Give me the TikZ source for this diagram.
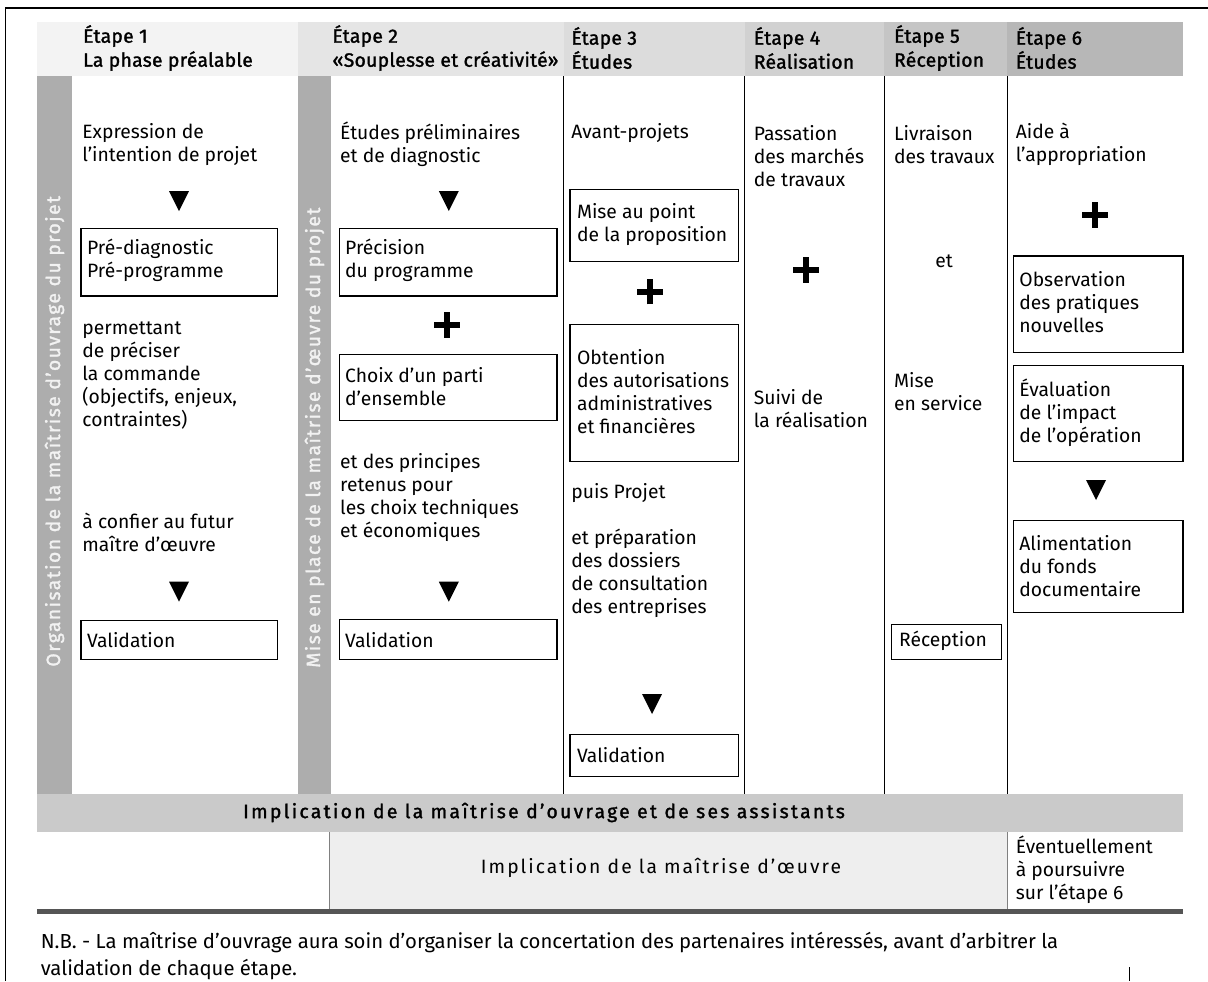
\documentclass[tikz,border=0pt]{standalone}
\usepackage{fontspec}
\setmainfont{Fira Sans}
\newfontfamily\headfont[FakeBold=1.5,LetterSpace=1.5]{Fira Sans}
\newfontfamily\barfont[FakeBold=1.5,LetterSpace=7.5]{Fira Sans}
\newfontfamily\bandfont[FakeBold=1.5,LetterSpace=12]{Fira Sans}
\newfontfamily\spacedfont[LetterSpace=10.5]{Fira Sans}
\usepackage{tikz}
\usetikzlibrary{shapes.misc}
\definecolor{hdrA}{HTML}{F3F3F3}
\definecolor{hdrB}{HTML}{E5E5E5}
\definecolor{hdrC}{HTML}{DCDCDC}
\definecolor{hdrD}{HTML}{D1D1D1}
\definecolor{hdrE}{HTML}{C5C5C5}
\definecolor{hdrF}{HTML}{B7B7B7}
\definecolor{bargray}{HTML}{ADADAD}
\definecolor{bandgray}{HTML}{CACACA}
\definecolor{lowgray}{HTML}{EEEEEE}
\definecolor{rulegray}{HTML}{555555}
\definecolor{bartext}{HTML}{F2F2F2}

\begin{document}
\begin{tikzpicture}[
  x=0.5pt, y=-0.5pt,
  every node/.style={font=\fontsize{9.65}{11.5}\selectfont, inner sep=0pt, align=left},
  txt/.style={anchor=west},
  hdr/.style={anchor=west, font=\fontsize{9.65}{12}\selectfont\headfont},
  vtxt/.style={anchor=west, rotate=90, text=bartext, font=\fontsize{9.65}{12}\selectfont\barfont},
  cadre/.style={draw=black, line width=0.6pt},
  colline/.style={draw=black, line width=0.5pt},
  plus/.style={cross out, draw=black, line width=3pt, minimum size=6pt, rotate=45},
  tri/.style={fill=black}
]
\useasboundingbox (0,0) rectangle (1208,981);

% cadre general
\draw[line width=0.8pt] (5.4,981) -- (5.4,8);
\draw[line width=1.3pt] (5,8) -- (1208,8);

% en-tetes
\fill[hdrA] (36.6,21.7) rectangle (297.8,76);
\fill[hdrB] (297.8,21.7) rectangle (563.6,76);
\fill[hdrC] (563.6,21.7) rectangle (744.6,76);
\fill[hdrD] (744.6,21.7) rectangle (884,76);
\fill[hdrE] (884,21.7) rectangle (1007.3,76);
\fill[hdrF] (1007.3,21.7) rectangle (1183,76);
\node[hdr] (h1) at (82.8,48) {Étape 1\\La phase préalable};
\node[hdr] (h2) at (332,48) {Étape 2\\«Souplesse et créativité»};
\node[hdr] (h3) at (571,48) {Étape 3\\Études};
\node[hdr] (h4) at (753.5,48) {Étape 4\\Réalisation};
\node[hdr] (h5) at (893.7,48) {Étape 5\\Réception};
\node[hdr] (h6) at (1015.4,48) {Étape 6\\Études};

% bandes verticales
\fill[bargray] (36.6,76) rectangle (72.4,794);
\fill[bargray] (297.8,76) rectangle (331.3,794);
\node[vtxt] (orga) at (54.5,667) {Organisation de la maîtrise d’ouvrage du projet};
\node[vtxt] (miseplace) at (314.5,668) {Mise en place de la maîtrise d’œuvre du projet};

% separations des colonnes
\foreach \cx in {563.6,744.6,884,1007.3}
  \draw[colline] (\cx,76) -- (\cx,794);

% etape 1
\node[txt] (e1a) at (82,144.2) {Expression de\\l’intention de projet};
\fill[tri] (169,191) -- ++(20,0) -- ++(-10,20) -- cycle;
\draw[cadre] (80.9,228.7) rectangle (277.7,296);
\node[txt] (e1b) at (86.7,260.8) {Pré-diagnostic\\Pré-programme};
\node[txt] (e1c) at (82,375.5) {permettant\\de préciser\\la commande\\(objectifs, enjeux,\\contraintes)};
\node[txt] (e1d) at (82,532) {à confier au futur\\maître d’œuvre};
\fill[tri] (169,581.7) -- ++(20,0) -- ++(-10,20) -- cycle;
\draw[cadre] (80.9,620.7) rectangle (277.7,659.3);
\node[txt] (e1e) at (86.7,640) {Validation};

% etape 2
\node[txt] (e2a) at (339.8,144.2) {Études préliminaires\\et de diagnostic};
\fill[tri] (438.8,191) -- ++(20,0) -- ++(-10,20) -- cycle;
\draw[cadre] (339.8,228.7) rectangle (557,296);
\node[txt] (e2b) at (344.8,260.8) {Précision\\du programme};
\node[plus] (p2) at (446.8,325) {};
\draw[cadre] (339.8,354.3) rectangle (557,420.7);
\node[txt] (e2c) at (344.8,386.3) {Choix d’un parti\\d’ensemble};
\node[txt] (e2d) at (339.8,498) {et des principes\\retenus pour\\les choix techniques\\et économiques};
\fill[tri] (438.8,581.7) -- ++(20,0) -- ++(-10,20) -- cycle;
\draw[cadre] (339.8,619.3) rectangle (557,659.3);
\node[txt] (e2e) at (344.8,640) {Validation};

% etape 3
\node[txt] (e3a) at (571,132.7) {Avant-projets};
\draw[cadre] (570,189.3) rectangle (738.8,261.7);
\node[txt] (e3b) at (576.6,224.5) {Mise au point\\de la proposition};
\node[plus] (p3) at (650.2,291.7) {};
\draw[cadre] (570,324.3) rectangle (738.8,461.7);
\node[txt] (e3c) at (576.6,391.5) {Obtention\\des autorisations\\administratives\\et financières};
\node[txt] (e3d) at (571,493.3) {puis Projet};
\node[txt] (e3e) at (571,573.8) {et préparation\\des dossiers\\de consultation\\des entreprises};
\fill[tri] (642,694) -- ++(20,0) -- ++(-10,20) -- cycle;
\draw[cadre] (570,734.3) rectangle (738.8,776.7);
\node[txt] (e3f) at (576.6,755.5) {Validation};

% etape 4
\node[txt] (e4a) at (753.5,155.8) {Passation\\des marchés\\de travaux};
\node[plus] (p4) at (805.8,270) {};
\node[txt] (e4b) at (753.5,408.2) {Suivi de\\la réalisation};

% etape 5
\node[txt] (e5a) at (893.7,144.2) {Livraison\\des travaux};
\node (e5b) at (944,261.7) {et};
\node[txt] (e5c) at (893.7,391.7) {Mise\\en service};
\draw[cadre] (891.8,624.7) rectangle (1001.5,659.3);
\node[txt] (e5d) at (898.7,641) {Réception};

% etape 6
\node[txt] (e6a) at (1015.4,144.2) {Aide à\\l’appropriation};
\node[plus] (p6) at (1095,215) {};
\draw[cadre] (1013.5,256) rectangle (1183,352.3);
\node[txt] (e6b) at (1019,302.2) {Observation\\des pratiques\\nouvelles};
\draw[cadre] (1013.5,365.7) rectangle (1183,461.7);
\node[txt] (e6c) at (1019,412.5) {Évaluation\\de l’impact\\de l’opération};
\fill[tri] (1086,480) -- ++(20,0) -- ++(-10,20) -- cycle;
\draw[cadre] (1013.5,520.7) rectangle (1183,612.7);
\node[txt] (e6d) at (1019,566.2) {Alimentation\\du fonds\\documentaire};

% bandes du bas
\fill[bandgray] (36.6,794) rectangle (1183,832.3);
\node[font=\fontsize{9.65}{12}\selectfont\bandfont] (moa) at (544,812.5) {Implication de la maîtrise d’ouvrage et de ses assistants};
\fill[lowgray] (329.4,832.3) rectangle (1007.3,909.3);
\draw[gray, line width=0.5pt] (329.4,832.3) -- (329.4,909.3);
\draw[gray, line width=0.5pt] (1007.3,832.3) -- (1007.3,909.3);
\node[font=\fontsize{9.65}{12}\selectfont\spacedfont] (moe) at (661,868.3) {Implication de la maîtrise d’œuvre};
\node[txt] (suite) at (1015.4,870) {Éventuellement\\à poursuivre\\sur l’étape 6};
\fill[rulegray] (36.6,909.3) rectangle (1183,914);

% note
\node[txt, font=\fontsize{10.15}{13.35}\selectfont] (nb) at (40.4,955.7) {N.B. - La maîtrise d’ouvrage aura soin d’organiser la concertation des partenaires intéressés, avant d’arbitrer la\\validation de chaque étape.};
\draw[line width=0.5pt] (1129,967) -- (1129,981);
\end{tikzpicture}
\end{document}
